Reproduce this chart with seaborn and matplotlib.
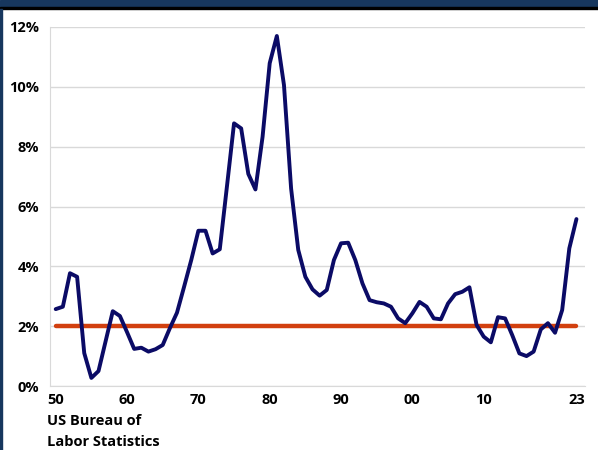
import numpy as np, pandas as pd
import matplotlib
matplotlib.use("Agg")  # headless
import matplotlib.pyplot as plt
import seaborn as sns
from matplotlib.ticker import MultipleLocator, FuncFormatter

years = list(range(1950, 2024))
inflation = [2.57, 2.65, 3.77, 3.65, 1.10, 0.27, 0.50, 1.50, 2.50, 2.34,
             1.80, 1.24, 1.28, 1.15, 1.23, 1.37, 1.93, 2.45, 3.32, 4.21,
             5.19, 5.19, 4.43, 4.57, 6.66, 8.78, 8.61, 7.09, 6.57, 8.33,
             10.79, 11.70, 10.06, 6.60, 4.55, 3.65, 3.23, 3.02, 3.21, 4.21,
             4.77, 4.79, 4.21, 3.43, 2.87, 2.80, 2.76, 2.65, 2.26, 2.10,
             2.43, 2.81, 2.65, 2.26, 2.23, 2.76, 3.07, 3.15, 3.30, 2.04,
             1.65, 1.46, 2.30, 2.26, 1.70, 1.09, 1.00, 1.15, 1.89, 2.10,
             1.78, 2.54, 4.60, 5.58]
target = 2.0
xtick_years = [1950, 1960, 1970, 1980, 1990, 2000, 2010, 2023]
xtick_labels = ["50", "60", "70", "80", "90", "00", "10", "23"]
source_lines = ["US Bureau of", "Labor Statistics"]

df = pd.DataFrame({"year": years, "infl": inflation})
df["target"] = target

sns.set_style("white")
plt.rcParams["font.family"] = ["Open Sans", "DejaVu Sans"]

fig = plt.figure(figsize=(5.98, 4.5), dpi=100)
ax = fig.add_axes([50/598, 1 - 386/450, 535/598, 359/450])

sns.lineplot(data=df, x="year", y="target", ax=ax, color="#d2400f", lw=3.2)
sns.lineplot(data=df, x="year", y="infl", ax=ax, color="#0b0b66", lw=2.8)

ax.set_xlim(1949.2, 2024.2)
ax.set_ylim(0, 12)
ax.yaxis.set_major_locator(MultipleLocator(2))
ax.yaxis.set_minor_locator(MultipleLocator(1))
ax.yaxis.set_major_formatter(FuncFormatter(lambda v, p: f"{v:.0f}%"))
ax.set_xticks(xtick_years)
ax.set_xticklabels(xtick_labels)
ax.grid(axis="y", color="#d9d9d9", lw=1)
ax.set_axisbelow(True)
ax.tick_params(axis="y", which="major", length=0, pad=8, labelsize=10.5,
               labelcolor="black")
ax.tick_params(axis="y", which="minor", direction="in", length=4, color="#d9d9d9")
ax.tick_params(axis="x", length=0, pad=5, labelsize=10.5, labelcolor="black")
for t in ax.get_xticklabels() + ax.get_yticklabels():
    t.set_fontweight("bold")
for s in ["top", "right"]:
    ax.spines[s].set_visible(False)
for s in ["left", "bottom"]:
    ax.spines[s].set_color("#d9d9d9")
ax.set_xlabel("")
ax.set_ylabel("")

# header band and left border
fig.patches.append(plt.Rectangle((0, 1 - 7/450), 1, 7/450, transform=fig.transFigure,
                                 color="#17375e", zorder=0))
fig.patches.append(plt.Rectangle((0, 1 - 9/450), 1, 2/450, transform=fig.transFigure,
                                 color="black", zorder=0))
fig.patches.append(plt.Rectangle((0, 0), 2/598, 1 - 9/450, transform=fig.transFigure,
                                 color="#17375e", zorder=0))

for i, line in enumerate(source_lines):
    fig.text(47/598, 1 - (421 + 21 * i)/450, line, fontsize=10.5, color="black",
             fontweight="bold", va="center", ha="left")

fig.savefig("out.png", dpi=100)
plt.close(fig)
